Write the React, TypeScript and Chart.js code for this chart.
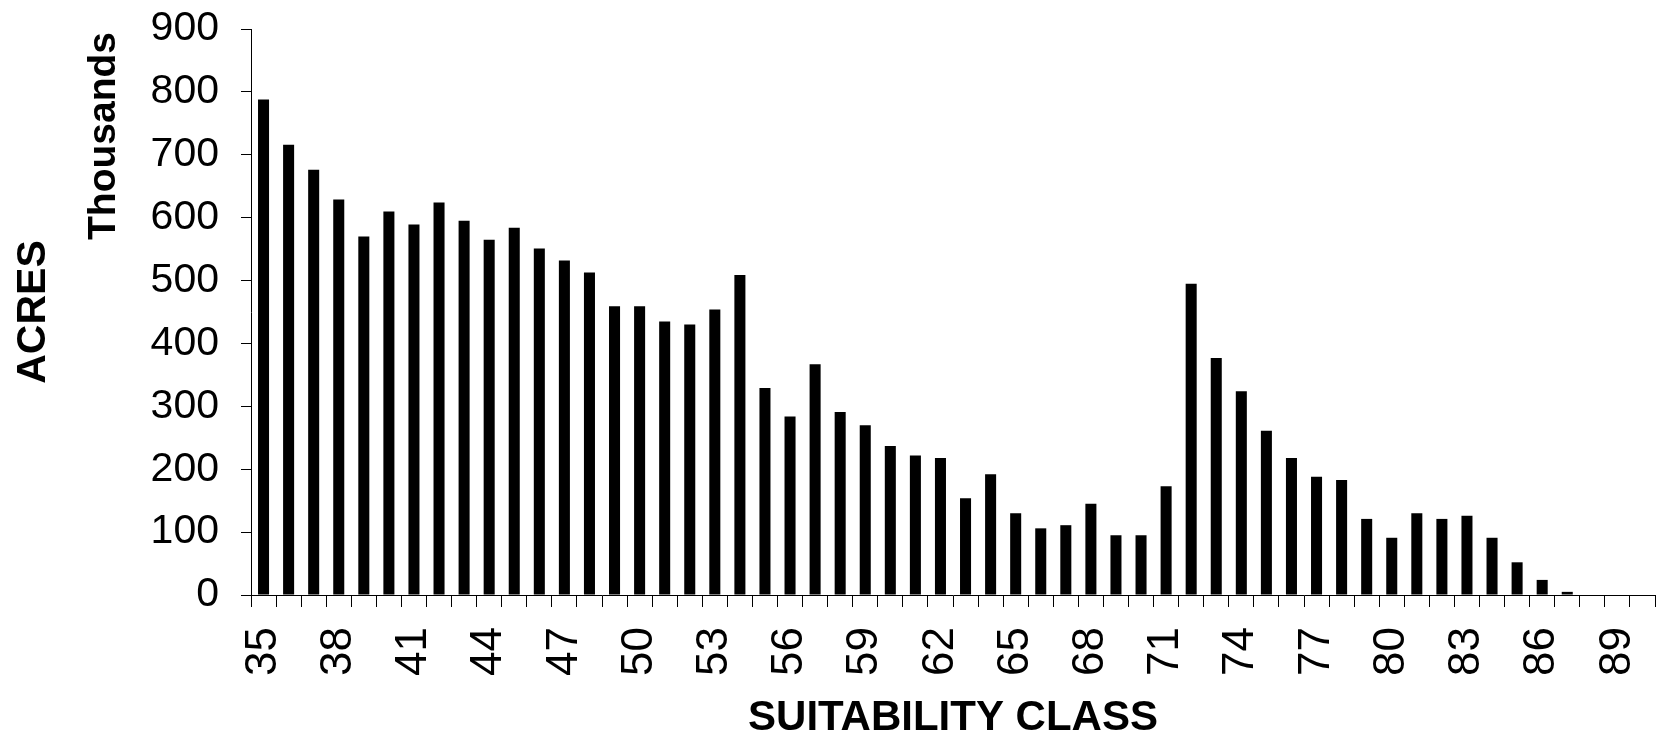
import React, { useEffect, useRef } from "react";
import { Chart, registerables } from "chart.js";

Chart.register(...registerables);

const classes: number[] = [
  35, 36, 37, 38, 39, 40, 41, 42, 43, 44, 45, 46, 47, 48, 49, 50, 51, 52, 53, 54,
  55, 56, 57, 58, 59, 60, 61, 62, 63, 64, 65, 66, 67, 68, 69, 70, 71, 72, 73, 74,
  75, 76, 77, 78, 79, 80, 81, 82, 83, 84, 85, 86, 87, 88, 89, 90,
];

const acresThousands: number[] = [
  788, 716, 676, 629, 570, 610, 589, 624, 595, 565, 584, 551, 532, 513, 459, 459, 435, 430, 454, 509,
  329, 284, 367, 291, 270, 237, 222, 218, 154, 192, 130, 106, 111, 145, 95, 95, 173, 495, 377, 324,
  261, 218, 188, 183, 121, 91, 130, 121, 126, 91, 52, 24, 5, 0, 0, 0,
];

const labelEvery = 3;
const yMin = 0;
const yMax = 900;
const yStep = 100;

const xTitle = "SUITABILITY CLASS";
const yTitle = "ACRES";
const unitLabel = "Thousands";

const FONT = "'Liberation Sans', Arial, Helvetica, sans-serif";

const unitPlugin = {
  id: "unitLabel",
  afterDraw(chart: any) {
    const ctx = chart.ctx;
    const area = chart.chartArea;
    ctx.save();
    ctx.translate(104, area.top + 107);
    ctx.rotate(-Math.PI / 2);
    ctx.font = `bold 39px ${FONT}`;
    ctx.fillStyle = "#000";
    ctx.textAlign = "center";
    ctx.textBaseline = "middle";
    ctx.fillText(unitLabel, 0, 0);
    ctx.restore();
  },
};

export default function App() {
  const ref = useRef<HTMLCanvasElement | null>(null);

  useEffect(() => {
    if (!ref.current) return;
    const chart = new Chart(ref.current, {
      type: "bar",
      data: {
        labels: classes.map(String),
        datasets: [
          {
            data: acresThousands,
            backgroundColor: "#000000",
            borderWidth: 0,
            barPercentage: 0.44,
            categoryPercentage: 1,
          },
        ],
      },
      options: {
        responsive: false,
        animation: false,
        devicePixelRatio: 1,
        layout: { padding: { top: 29, right: 5, left: 0, bottom: 0 } },
        plugins: {
          legend: { display: false },
          tooltip: { enabled: false },
          title: { display: false },
        },
        scales: {
          x: {
            type: "category",
            offset: true,
            grid: {
              display: true,
              drawOnChartArea: false,
              drawTicks: true,
              tickLength: 12,
              color: "#000",
              offset: true,
            },
            border: { display: true, color: "#000", width: 1 },
            ticks: {
              autoSkip: false,
              minRotation: 90,
              maxRotation: 90,
              padding: 20,
              color: "#000",
              font: { family: FONT, size: 44 },
              callback: (_v: any, i: number) =>
                (classes[i] - classes[0]) % labelEvery === 0 ? String(classes[i]) : "",
            },
            title: {
              display: true,
              text: xTitle,
              color: "#000",
              font: { family: FONT, size: 42, weight: "bold", lineHeight: 0.75 },
              padding: { top: 0, bottom: 0 },
            },
            afterFit: (scale: any) => {
              scale.height = 139;
              scale.paddingLeft = 0;
              scale.paddingRight = 0;
            },
          },
          y: {
            min: yMin,
            max: yMax,
            grid: {
              display: true,
              drawOnChartArea: false,
              drawTicks: true,
              tickLength: 10,
              color: "#000",
            },
            border: { display: true, color: "#000", width: 1 },
            ticks: {
              stepSize: yStep,
              padding: 22,
              color: "#000",
              font: { family: FONT, size: 41 },
            },
            title: {
              display: true,
              text: yTitle,
              color: "#000",
              font: { family: FONT, size: 41, weight: "bold", lineHeight: 1.2 },
              padding: { top: 9, bottom: 0 },
            },
            afterFit: (scale: any) => {
              scale.width = 251;
              scale.paddingTop = 0;
              scale.paddingBottom = 0;
            },
          },
        },
      },
      plugins: [unitPlugin],
    });
    return () => chart.destroy();
  }, []);

  return (
    <div style={{ position: "absolute", left: 0, top: 0, width: 1660, height: 734 }}>
      <canvas ref={ref} width={1660} height={734} />
    </div>
  );
}
